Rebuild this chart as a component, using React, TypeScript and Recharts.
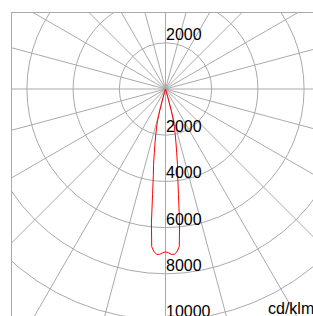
import { RadarChart, Radar, PolarGrid, PolarAngleAxis, PolarRadiusAxis } from "recharts";

// gamma angle from nadir (deg) and luminous intensity (cd/klm), curve is symmetric about 0°
const gammaDeg = [0, 1, 2, 3, 4, 5, 6, 7, 8, 9, 10, 11, 12, 13, 14, 15, 16, 17, 18, 19, 20];
const intensity = [
  7050, 7090, 7160, 7170, 7070, 6850, 5830, 4600, 3790, 3300, 2780, 2380, 2030, 1730, 1430, 980, 420, 150,
  40, 0, 0,
];

const radiusDomain = [0, 12000];
const radiusTickCount = 7;
const spokeAngles = [0, 15, 30, 45, 60, 75, 90, 105, 120, 135, 150, 165, 180, 195, 210, 225, 240, 255, 270, 285, 300, 315, 330, 345];
const unitLabel = "cd/klm";

const data = Array.from({ length: 360 }, (_, a) => {
  const g = a <= 180 ? a : 360 - a;
  const i = gammaDeg.indexOf(g);
  return { angle: a, cd: i >= 0 ? intensity[i] : 0 };
});

const W = 301;
const H = 303;
const CX = 153.5;
const CY = 76;
const GRID = "#aaaaaa";
const FONT = "'Liberation Sans', Arial, sans-serif";

// labels sit just above each circle, on the downward axis and mirrored upward
function RadiusTick(props: any) {
  const { x, y, payload } = props;
  if (!payload || !payload.value) return <g />;
  const down = y - 3;
  const up = 2 * CY - y - 3;
  return (
    <g>
      {down - 12 < H && (
        <text x={x + 0.5} y={down} fontSize={16} fontFamily={FONT} fill="#000" textAnchor="start">
          {payload.value}
        </text>
      )}
      {up - 12 > 0 && (
        <text x={x + 0.5} y={up} fontSize={16} fontFamily={FONT} fill="#000" textAnchor="start">
          {payload.value}
        </text>
      )}
    </g>
  );
}

export default function App() {
  return (
    <div style={{ position: "fixed", left: 0, top: 0, width: 313, height: 316, overflow: "hidden", background: "#fff" }}>
      <div
        style={{
          position: "absolute",
          left: 11,
          top: 12,
          width: W + 1,
          height: H + 1,
          boxSizing: "border-box",
          borderLeft: `1px solid ${GRID}`,
          borderTop: `1px solid ${GRID}`,
          overflow: "hidden",
        }}
      >
        <RadarChart
          width={W}
          height={H}
          data={data}
          cx={CX}
          cy={CY}
          innerRadius={0}
          outerRadius={277.2}
          startAngle={-90}
          endAngle={-450}
          margin={{ top: 0, right: 0, bottom: 0, left: 0 }}
        >
          <PolarGrid gridType="circle" stroke={GRID} strokeWidth={1} polarAngles={spokeAngles} />
          <PolarAngleAxis dataKey="angle" tick={false} tickLine={false} axisLine={false} />
          <PolarRadiusAxis
            angle={-90}
            type="number"
            domain={radiusDomain}
            tickCount={radiusTickCount}
            axisLine={false}
            tickLine={false}
            tick={<RadiusTick />}
          />
          <Radar
            dataKey="cd"
            stroke="#ff0000"
            strokeWidth={1}
            fill="none"
            fillOpacity={0}
            dot={false}
            isAnimationActive={false}
          />
          <text x={256} y={301} fontSize={16} fontFamily={FONT} fill="#000">
            {unitLabel}
          </text>
        </RadarChart>
      </div>
    </div>
  );
}
